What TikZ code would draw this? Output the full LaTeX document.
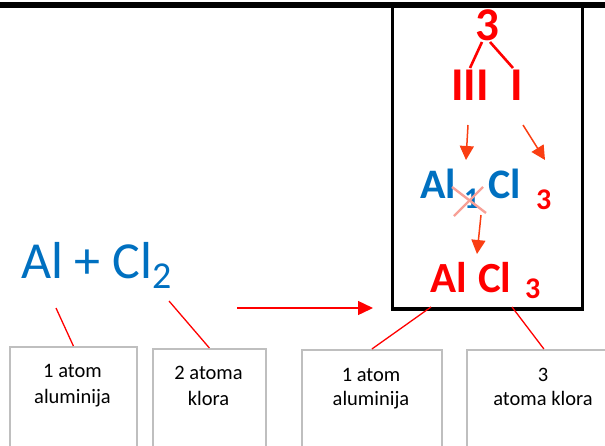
\documentclass[tikz,border=0pt]{standalone}
\usepackage{fontspec}
\setmainfont{Carlito}
\usetikzlibrary{arrows.meta}
\definecolor{chemblue}{RGB}{0,112,192}
\definecolor{chemred}{RGB}{255,0,0}
\definecolor{arrred}{RGB}{250,62,18}
\definecolor{crossred}{RGB}{248,160,150}
\definecolor{boxgray}{RGB}{191,191,191}
\newcommand{\myfs}[1]{\fontsize{#1}{#1}\selectfont}
\tikzset{
  txt/.style={inner sep=0pt, outer sep=0pt, anchor=base},
  graybox/.style={draw=boxgray, line width=1.8pt, inner sep=0pt, anchor=north west},
  boxtxt/.style={txt, font=\myfs{20.5}, text=black},
  redline/.style={draw=chemred, line width=1.3pt},
  redthick/.style={draw=chemred, line width=2.6pt},
  bigarrow/.style={draw=chemred, line width=1.4pt, -{Triangle[length=15pt,width=14pt]}},
  smallarrow/.style={draw=arrred, line width=1.5pt, -{Triangle[length=14pt,width=14pt]}},
  crossline/.style={draw=crossred, line width=2.4pt}
}
\begin{document}
\begin{tikzpicture}[x=1pt,y=-1pt]
\useasboundingbox (0,0) rectangle (605,445);
% frame
\node[draw=black, line width=3.5pt, minimum width=190pt, minimum height=303pt, inner sep=0pt, anchor=north west] (frame) at (390.5,4) {};
\fill[black] (0,2) rectangle (605,7.5);
% bottom boxes
\node[graybox, minimum width=127pt, minimum height=130pt] (box1) at (9,346) {};
\node[graybox, minimum width=113pt, minimum height=130pt] (box2) at (152,348) {};
\node[graybox, minimum width=140pt, minimum height=130pt] (box3) at (301,349) {};
\node[graybox, minimum width=154pt, minimum height=130pt] (box4) at (466,349) {};
\node[boxtxt] (b1a) at (72.5,377) {1 atom};
\node[boxtxt] (b1b) at (72.5,403) {aluminija};
\node[boxtxt] (b2a) at (208.5,379) {2 atoma};
\node[boxtxt] (b2b) at (208.5,405) {klora};
\node[boxtxt] (b3a) at (371,381) {1 atom};
\node[boxtxt] (b3b) at (371,405) {aluminija};
\node[boxtxt] (b4a) at (543,381) {3};
\node[boxtxt] (b4b) at (543,405) {atoma klora};
% reaction
\node[txt, anchor=base west, text=chemblue, font=\myfs{52}] (eq) at (21,278) {Al + Cl\raisebox{-10pt}{\myfs{38}2}};
% inside frame
\node[txt, text=chemred, font=\bfseries\myfs{47}] (three) at (487,40) {3};
\node[txt, text=chemred, font=\bfseries\myfs{47}] (iii) at (470,100) {III};
\node[txt, text=chemred, font=\bfseries\myfs{47}] (ione) at (516.5,100) {I};
\coordinate (t1) at (482,42); \coordinate (t2) at (470,68);
\coordinate (t3) at (490,42); \coordinate (t4) at (513,68);
\draw[redthick] (t1) -- (t2);
\draw[redthick] (t3) -- (t4);
\node[txt, anchor=base west, text=chemblue, font=\bfseries\myfs{42}] (alb) at (420,198) {Al};
\node[txt, anchor=base west, text=chemblue, font=\bfseries\myfs{30}] (oneb) at (464,208) {1};
\node[txt, anchor=base west, text=chemblue, font=\bfseries\myfs{42}] (clb) at (488,198) {Cl};
\node[txt, anchor=base west, text=chemred, font=\bfseries\myfs{30}] (threeb) at (536,209) {3};
\node[txt, anchor=base west, text=chemred, font=\bfseries\myfs{43}] (alr) at (430,292) {Al};
\node[txt, anchor=base west, text=chemred, font=\bfseries\myfs{43}] (clr) at (478,292) {Cl};
\node[txt, anchor=base west, text=chemred, font=\bfseries\myfs{30}] (threer) at (525,298) {3};
% cross
\coordinate (c1) at (452,187); \coordinate (c2) at (486,213);
\coordinate (c3) at (483,187); \coordinate (c4) at (454,216);
\draw[crossline] (c1) -- (c2);
\draw[crossline] (c3) -- (c4);
% small arrows
\coordinate (a1s) at (468,125); \coordinate (a1e) at (466,160);
\coordinate (a2s) at (523,125); \coordinate (a2e) at (545,160);
\coordinate (a3s) at (481,215); \coordinate (a3e) at (477,254);
\draw[smallarrow] (a1s) -- (a1e);
\draw[smallarrow] (a2s) -- (a2e);
\draw[smallarrow] (a3s) -- (a3e);
% connectors
\coordinate (alfoot) at (56,308);
\coordinate (clfoot) at (169,301);
\draw[redline] (alfoot) -- (box1.north);
\draw[redline] (clfoot) -- (box2.north);
\coordinate (arrS) at (237,308); \coordinate (arrE) at (373,308);
\draw[bigarrow] (arrS) -- (arrE);
\coordinate (fl) at (431,307); \coordinate (fr) at (512,307);
\draw[redline] (fl) -- (box3.north);
\draw[redline] (fr) -- (box4.north);
\end{tikzpicture}
\end{document}
